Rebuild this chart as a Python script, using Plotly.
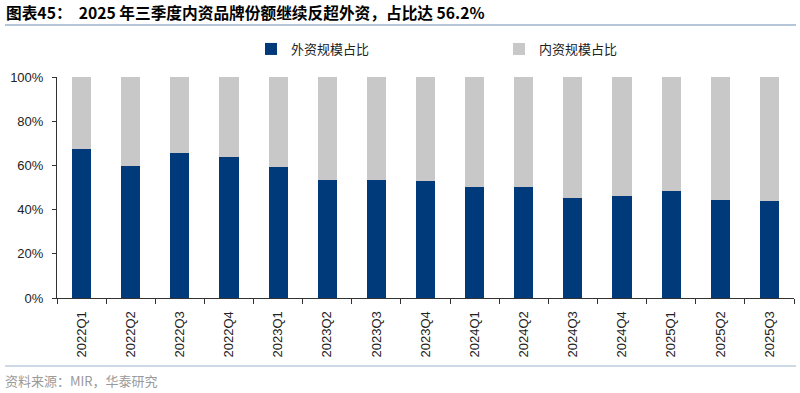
import plotly.graph_objects as go

quarters = ["2022Q1", "2022Q2", "2022Q3", "2022Q4", "2023Q1", "2023Q2", "2023Q3", "2023Q4",
            "2024Q1", "2024Q2", "2024Q3", "2024Q4", "2025Q1", "2025Q2", "2025Q3"]
foreign_share = [67.6, 59.7, 65.6, 63.7, 59.3, 53.5, 53.2, 52.9,
                 50.4, 50.3, 45.4, 46.3, 48.4, 44.5, 43.8]
domestic_share = [32.4, 40.3, 34.4, 36.3, 40.7, 46.5, 46.8, 47.1,
                  49.6, 49.7, 54.6, 53.7, 51.6, 55.5, 56.2]
y_ticks = [0, 20, 40, 60, 80, 100]
y_tick_labels = ["0%", "20%", "40%", "60%", "80%", "100%"]

BLUE = "#003A7A"
GRAY = "#C8C8C8"
FONT = "Liberation Sans, Arial, Noto Sans CJK SC"
CJK = "Noto Sans CJK SC"

W, H = 800, 393
# plot area in page pixels
L, R, T, B = 57, 794, 77, 298
PW, PH = R - L, B - T


def px(x):
    return (x - L) / PW


def py(y):
    return (B - y) / PH


fig = go.Figure()
fig.add_trace(go.Bar(x=quarters, y=foreign_share, name="外资规模占比",
                     marker=dict(color=BLUE, line=dict(width=0))))
fig.add_trace(go.Bar(x=quarters, y=domestic_share, name="内资规模占比",
                     marker=dict(color=GRAY, line=dict(width=0))))

fig.update_layout(
    barmode="stack",
    bargap=0.61,
    width=W, height=H,
    margin=dict(l=L, r=W - R, t=T, b=H - B, autoexpand=False),
    paper_bgcolor="white", plot_bgcolor="white",
    font=dict(family=FONT, size=13, color="#222222"),
    showlegend=True,
    legend=dict(orientation="h", x=px(251), y=py(49), xanchor="left", yanchor="middle",
                traceorder="normal",
                entrywidth=203, entrywidthmode="pixels", itemwidth=30,
                font=dict(family=CJK, size=13, color="#222222"),
                bgcolor="rgba(0,0,0,0)"),
    xaxis=dict(type="category", showline=True, linecolor="#333333", linewidth=1,
               ticks="outside", tickson="boundaries", ticklen=5, tickcolor="#333333",
               tickangle=-90, ticklabelstandoff=7,
               tickfont=dict(family=FONT, size=13, color="#222222"),
               showgrid=False, automargin=False),
    yaxis=dict(range=[0, 100], tickvals=y_ticks, ticktext=y_tick_labels,
               showline=True, linecolor="#333333", linewidth=1,
               ticks="outside", ticklen=4, tickcolor="#333333", ticklabelstandoff=6,
               tickfont=dict(family=FONT, size=13, color="#222222"),
               showgrid=False, zeroline=False, automargin=False),
)

fig.add_annotation(text="<b>图表45：  2025 年三季度内资品牌份额继续反超外资，占比达 56.2%</b>",
                   xref="paper", yref="paper", x=px(4), y=py(13),
                   xanchor="left", yanchor="middle", showarrow=False,
                   font=dict(family=CJK, size=15.7, color="#000000"))
fig.add_annotation(text="资料来源：MIR，华泰研究",
                   xref="paper", yref="paper", x=px(3), y=py(380),
                   xanchor="left", yanchor="middle", showarrow=False,
                   font=dict(family=CJK, size=13, color="#9A9A9A"))

fig.add_shape(type="line", xref="paper", yref="paper",
              x0=px(5), x1=px(796), y0=py(25), y1=py(25),
              line=dict(color="#9DB3CC", width=1.5))
fig.add_shape(type="line", xref="paper", yref="paper",
              x0=px(5), x1=px(796), y0=py(366), y1=py(366),
              line=dict(color="#9DB3CC", width=1))

fig.write_html("out.html",
               config={"displayModeBar": False},
               post_script="document.body.style.margin='0px';document.body.style.overflow='hidden';")
